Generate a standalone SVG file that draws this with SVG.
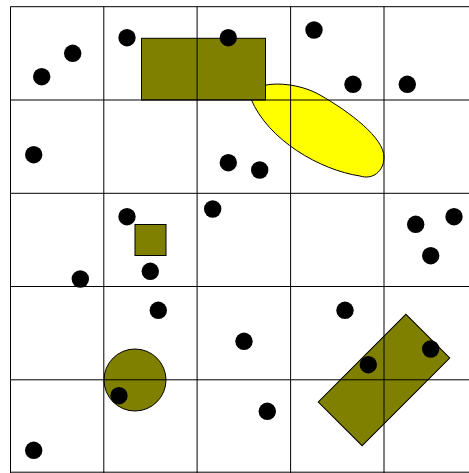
<svg xmlns="http://www.w3.org/2000/svg" width="469" height="473" viewBox="0 0 469 473">
<style>
.olive{fill:#808000;stroke:#000;stroke-width:1}
.yellow{fill:#ffff00;stroke:#000;stroke-width:1}
.grid line{stroke:#000;stroke-width:1}
.dot{fill:#000}
</style>
<rect width="469" height="473" fill="#fff"/>
<g id="shapes">
<path id="leaf" class="yellow" d="M251,99 C246,82 290,78 320,95 C350,112 384,138 384,157 C384,172 372,180 360,176 C320,170 268,140 251,99 Z"/>
<rect id="rect-top" class="olive" x="141.5" y="38.3" width="124" height="61.7"/>
<rect id="square" class="olive" x="135" y="224.5" width="31" height="31"/>
<circle id="circle" class="olive" cx="135" cy="380" r="31"/>
<rect id="rotrect" class="olive" x="-62" y="-31" width="124" height="62" transform="translate(384,380) rotate(-45)"/>
</g>
<g id="grid" class="grid">
<line x1="10.5" y1="6.7" x2="10.5" y2="473"/>
<line x1="103.8" y1="6.7" x2="103.8" y2="473"/>
<line x1="197.1" y1="6.7" x2="197.1" y2="473"/>
<line x1="290.6" y1="6.7" x2="290.6" y2="473"/>
<line x1="384" y1="6.7" x2="384" y2="473"/>
<line x1="10.5" y1="6.7" x2="469" y2="6.7"/>
<line x1="10.5" y1="100" x2="469" y2="100"/>
<line x1="10.5" y1="193.3" x2="469" y2="193.3"/>
<line x1="10.5" y1="286.5" x2="469" y2="286.5"/>
<line x1="10.5" y1="379.8" x2="469" y2="379.8"/>
<line x1="10.5" y1="472.2" x2="469" y2="472.2"/>
</g>
<g id="dots" class="dot">
<circle cx="41.7" cy="76.7" r="8.7"/>
<circle cx="72.7" cy="53.3" r="8.7"/>
<circle cx="127" cy="37.7" r="8.7"/>
<circle cx="228.3" cy="37.7" r="8.7"/>
<circle cx="314" cy="30" r="8.7"/>
<circle cx="353" cy="84.3" r="8.7"/>
<circle cx="407.3" cy="84.3" r="8.7"/>
<circle cx="33.7" cy="154.7" r="8.7"/>
<circle cx="228.3" cy="162.7" r="8.7"/>
<circle cx="259.7" cy="170" r="8.7"/>
<circle cx="127" cy="216.7" r="8.7"/>
<circle cx="212.7" cy="209" r="8.7"/>
<circle cx="415.7" cy="224.3" r="8.7"/>
<circle cx="454" cy="216.7" r="8.7"/>
<circle cx="430.7" cy="255.7" r="8.7"/>
<circle cx="80.3" cy="279" r="8.7"/>
<circle cx="150.3" cy="271.3" r="8.7"/>
<circle cx="158.3" cy="310.3" r="8.7"/>
<circle cx="345" cy="310.3" r="8.7"/>
<circle cx="244" cy="341.3" r="8.7"/>
<circle cx="430.7" cy="349" r="8.7"/>
<circle cx="368.3" cy="364.7" r="8.7"/>
<circle cx="119" cy="395.7" r="8.7"/>
<circle cx="267.3" cy="411.3" r="8.7"/>
<circle cx="33.7" cy="450.3" r="8.7"/>
</g>
</svg>
